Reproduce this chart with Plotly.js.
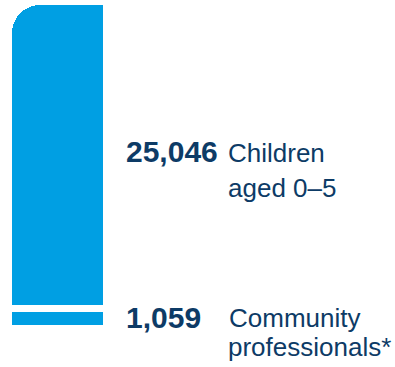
<!DOCTYPE html>
<html>
<head>
<meta charset="utf-8">
<script src="https://cdn.plot.ly/plotly-3.0.1.min.js"></script>
<style>html,body{margin:0;padding:0;background:#fff;}#chart{width:395px;height:367px;}</style>
</head>
<body>
<div id="chart"></div>
<script>
// ---- data ----
var categories = ["Children aged 0\u20135", "Community professionals*"];
var categoryLines = [["Children", "aged 0\u20135"], ["Community", "professionals*"]];
var values = [25046, 1059];
var valueLabels = ["25,046", "1,059"];

// ---- styling ----
var BLUE = "#009fe3";
var NAVY = "#0d3b66";
var W = 395, H = 367;
var M = {l: 12, r: 0, t: 5, b: 42};
var plotW = W - M.l - M.r, plotH = H - M.t - M.b;
var barPx = 91, gapPx = 7;

var total = values[0] + values[1];
var yTop = total / (1 - gapPx / plotH);
var gap = yTop - total;

var traces = [
  {type: "bar", x: [0], y: [values[1]], width: [1],
   marker: {color: BLUE}, name: categories[1], hoverinfo: "skip"},
  {type: "bar", x: [0], y: [gap], width: [1],
   marker: {color: "rgba(0,0,0,0)"}, name: "gap", hoverinfo: "skip"},
  {type: "bar", x: [0], y: [values[0]], width: [1],
   marker: {color: BLUE, cornerradius: 28}, name: categories[0], hoverinfo: "skip"}
];

function px2x(px) { return (px - M.l) / plotW; }
function py2y(py) { return (H - M.b - py) / plotH; }

var BOLD = {family: "Liberation Sans, Arial, sans-serif", size: 30, color: NAVY, weight: 700};
var REG = {family: "Liberation Sans, Arial, sans-serif", size: 26, color: NAVY};

function ann(text, xpx, basePx, font) {
  var desc = 0.22 * font.size + 0.6;
  return {text: text, xref: "paper", yref: "paper", x: px2x(xpx), y: py2y(basePx + desc),
          xanchor: "left", yanchor: "bottom", showarrow: false, font: font, borderpad: 0};
}

var annotations = [
  ann("<b>" + valueLabels[0] + "</b>", 125, 162, BOLD),
  ann(categoryLines[0][0], 227, 162.5, REG),
  ann(categoryLines[0][1], 227, 197.5, REG),
  ann("<b>" + valueLabels[1] + "</b>", 125, 327.5, BOLD),
  ann(categoryLines[1][0], 228, 327.5, REG),
  ann(categoryLines[1][1], 227, 357, REG)
];

// square off the top-right corner of the top bar (reference only rounds top-left)
var rPx = 28;
var shapes = [{type: "rect", xref: "x", yref: "y", x0: 0, x1: 0.5,
  y0: yTop - rPx * yTop / plotH, y1: yTop, fillcolor: BLUE, line: {width: 0}, layer: "above"}];

var layout = {
  width: W, height: H, margin: M,
  paper_bgcolor: "#ffffff", plot_bgcolor: "#ffffff",
  showlegend: false, barmode: "stack",
  xaxis: {range: [-0.5, -0.5 + plotW / barPx], visible: false, fixedrange: true},
  yaxis: {range: [0, yTop], visible: false, fixedrange: true},
  annotations: annotations, shapes: shapes
};

Plotly.newPlot("chart", traces, layout, {displayModeBar: false, staticPlot: true});
</script>
</body>
</html>
